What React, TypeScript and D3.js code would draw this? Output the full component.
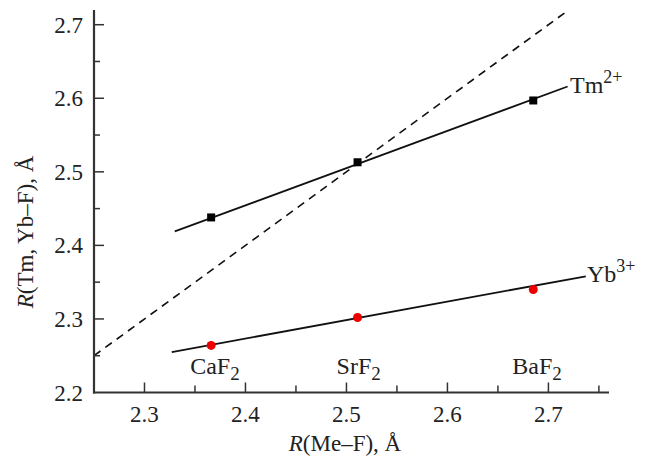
import React from "react";
import * as d3 from "d3";

const crystals = ["CaF2", "SrF2", "BaF2"];
const meF = [2.366, 2.511, 2.685];
const tmValues = [2.438, 2.513, 2.597];
const ybValues = [2.264, 2.302, 2.34];
const tmFit = [[2.33, 2.419], [2.719, 2.616]];
const ybFit = [[2.327, 2.255], [2.737, 2.358]];
const diagonal = [[2.25, 2.25], [2.72, 2.72]];
const xTicks = [2.3, 2.4, 2.5, 2.6, 2.7];
const yTicks = [2.2, 2.3, 2.4, 2.5, 2.6, 2.7];
const xMinor = [2.35, 2.45, 2.55, 2.65, 2.75];
const yMinor = [2.25, 2.35, 2.45, 2.55, 2.65];

export default function App() {
  const W = 651, H = 459;
  const x = d3.scaleLinear().domain([2.25, 2.76]).range([94, 609]);
  const y = d3.scaleLinear().domain([2.2, 2.72]).range([392.5, 10]);
  const line = d3.line<number[]>().x((d) => x(d[0])).y((d) => y(d[1]));
  const axisColor = "#333";
  const font = "'Liberation Serif', 'Times New Roman', serif";
  const x0 = x.range()[0];
  const y0 = y.range()[0];
  return (
    <svg width={W} height={H} style={{ position: "absolute", left: 0, top: 0, background: "#fff" }} fontFamily={font}>
      <path d={line(diagonal as any) || ""} stroke="#111" strokeWidth={1.6} fill="none" strokeDasharray="8,6" />
      <path d={line(tmFit as any) || ""} stroke="#111" strokeWidth={1.8} fill="none" />
      <path d={line(ybFit as any) || ""} stroke="#111" strokeWidth={1.8} fill="none" />
      {meF.map((m, i) => (
        <rect key={"s" + i} x={x(m) - 4} y={y(tmValues[i]) - 4} width={8} height={8} fill="#000" />
      ))}
      {meF.map((m, i) => (
        <circle key={"c" + i} cx={x(m)} cy={y(ybValues[i])} r={4.5} fill="#ee0000" />
      ))}
      <line x1={x0} x2={x0} y1={y.range()[1]} y2={y0 + 1} stroke={axisColor} strokeWidth={2.2} />
      <line x1={x0 - 1} x2={x.range()[1]} y1={y0} y2={y0} stroke={axisColor} strokeWidth={2.2} />
      {yTicks.map((t) => (
        <g key={"yt" + t}>
          {t > 2.2 && <line x1={x0} x2={x0 + 10} y1={y(t)} y2={y(t)} stroke={axisColor} strokeWidth={1.5} />}
          <text x={83} y={y(t)} dy="0.35em" textAnchor="end" fontSize={23} fill="#222">{t.toFixed(1)}</text>
        </g>
      ))}
      {yMinor.map((t) => (
        <line key={"ym" + t} x1={x0} x2={x0 + 6} y1={y(t)} y2={y(t)} stroke={axisColor} strokeWidth={1.5} />
      ))}
      {xTicks.map((t) => (
        <g key={"xt" + t}>
          <line x1={x(t)} x2={x(t)} y1={y0} y2={y0 - 10} stroke={axisColor} strokeWidth={1.5} />
          <text x={x(t)} y={422} textAnchor="middle" fontSize={23} fill="#222">{t.toFixed(1)}</text>
        </g>
      ))}
      {xMinor.map((t) => (
        <line key={"xm" + t} x1={x(t)} x2={x(t)} y1={y0} y2={y0 - 7} stroke={axisColor} strokeWidth={1.5} />
      ))}
      {crystals.map((c, i) => (
        <text key={"cl" + i} x={x(meF[i]) - 21} y={374} fontSize={24} fill="#222">
          {c.slice(0, -1)}
          <tspan dy={6} fontSize={19}>{c.slice(-1)}</tspan>
        </text>
      ))}
      <text x={570} y={93} fontSize={24} fill="#222">
        Tm<tspan dy={-10} fontSize={18}>2+</tspan>
      </text>
      <text x={587} y={282} fontSize={24} fill="#222">
        Yb<tspan dy={-10} fontSize={18}>3+</tspan>
      </text>
      <text x={345} y={451} textAnchor="middle" fontSize={23} fill="#222">
        <tspan fontStyle="italic">R</tspan>(Me–F), Å
      </text>
      <text transform={`translate(33, 232) rotate(-90)`} textAnchor="middle" fontSize={23} fill="#222">
        <tspan fontStyle="italic">R</tspan>(Tm, Yb–F), Å
      </text>
    </svg>
  );
}
